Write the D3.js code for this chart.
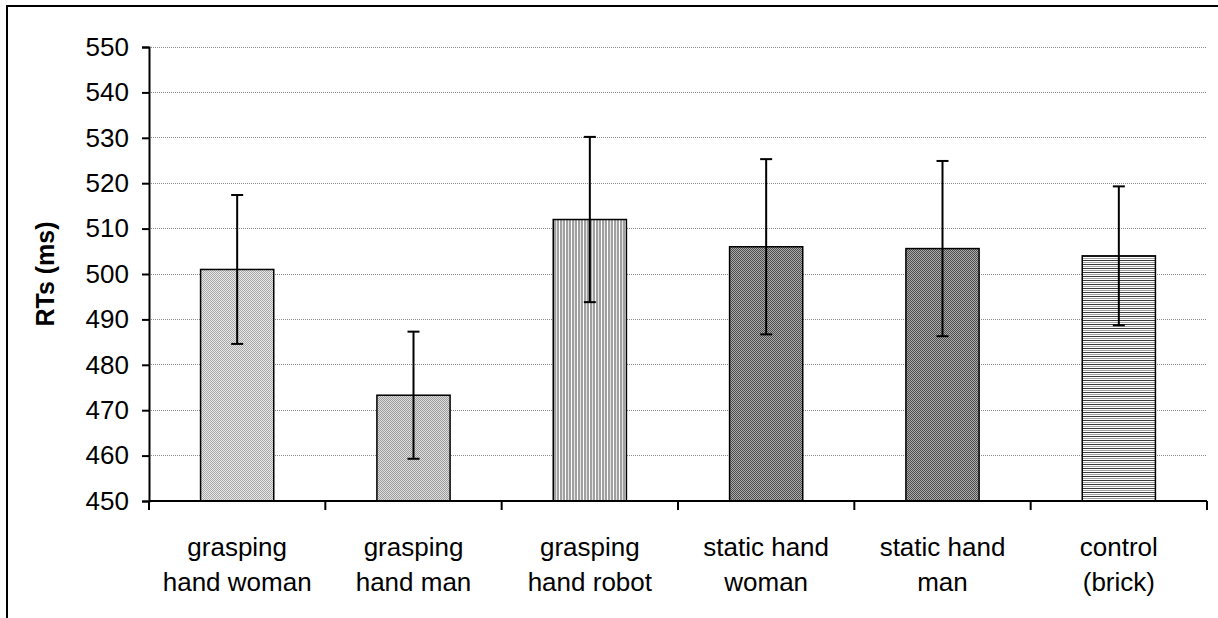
<!DOCTYPE html>
<html lang="en">
<head>
  <meta charset="UTF-8">
  <title>RTs by condition</title>
  <style>
    body {
      margin: 0;
      background: #fff;
    }
    svg {
      display: block;
      font-family: "Liberation Sans", Arial, sans-serif;
    }
  </style>
  <script src="https://d3js.org/d3.v7.min.js"></script>
</head>
<body>
  <div id="chart"></div>

  <script>
    // Data
    const categories = ['grasping hand woman', 'grasping hand man', 'grasping hand robot',
                        'static hand woman', 'static hand man', 'control (brick)'];
    const labelLines = [['grasping', 'hand woman'], ['grasping', 'hand man'], ['grasping', 'hand robot'],
                        ['static hand', 'woman'], ['static hand', 'man'], ['control', '(brick)']];
    const means = [501, 473.3, 512, 506, 505.6, 504];
    const errors = [16.4, 14, 18.2, 19.3, 19.3, 15.3];
    const yTicks = [450, 460, 470, 480, 490, 500, 510, 520, 530, 540, 550];
    const patternIds = ['p1', 'p2', 'p3', 'p4', 'p4', 'p6'];

    const width = 1218;
    const height = 618;
    const plot = { left: 149, right: 1207, top: 47, bottom: 501 };

    const svg = d3.select('#chart')
      .append('svg')
      .attr('width', width)
      .attr('height', height);

    // Fill patterns (approximation of the old Excel hatch fills)
    const defs = svg.append('defs');

    function pixelPattern(id, size, bg, fg, cells) {
      const p = defs.append('pattern')
        .attr('id', id)
        .attr('patternUnits', 'userSpaceOnUse')
        .attr('width', size)
        .attr('height', size);
      p.append('rect').attr('width', size).attr('height', size).attr('fill', bg);
      cells.forEach(c => {
        p.append('rect')
          .attr('x', c[0]).attr('y', c[1])
          .attr('width', 1).attr('height', 1)
          .attr('fill', fg);
      });
    }

    // diagonal weave: two diagonals per 4x4 tile
    const diag = [];
    for (let i = 0; i < 4; i++) {
      diag.push([i, i]);
      diag.push([(i + 2) % 4, i]);
    }
    pixelPattern('p1', 4, '#e8e8e8', '#a8a8a8', diag);
    pixelPattern('p2', 4, '#dedede', '#9c9c9c', diag);
    pixelPattern('p4', 4, '#ababab', '#4e4e4e', diag);

    // vertical stripes
    const p3 = defs.append('pattern')
      .attr('id', 'p3')
      .attr('patternUnits', 'userSpaceOnUse')
      .attr('width', 6)
      .attr('height', 6);
    p3.append('rect').attr('width', 6).attr('height', 6).attr('fill', '#a0a0a0');
    p3.append('rect').attr('x', 1).attr('width', 1).attr('height', 6).attr('fill', '#ffffff');
    p3.append('rect').attr('x', 4).attr('width', 1).attr('height', 6).attr('fill', '#e4e4e4');

    // horizontal lines
    const p6 = defs.append('pattern')
      .attr('id', 'p6')
      .attr('patternUnits', 'userSpaceOnUse')
      .attr('width', 6)
      .attr('height', 4);
    p6.append('rect').attr('width', 6).attr('height', 4).attr('fill', '#ffffff');
    p6.append('rect').attr('y', 0).attr('width', 6).attr('height', 1).attr('fill', '#3a3a3a');
    p6.append('rect').attr('y', 2).attr('width', 6).attr('height', 1).attr('fill', '#a0a0a0');

    // Outer frame (right and bottom edges fall outside the picture)
    svg.append('rect')
      .attr('x', 7)
      .attr('y', 6)
      .attr('width', width + 20)
      .attr('height', height + 20)
      .attr('fill', 'none')
      .attr('stroke', '#000')
      .attr('stroke-width', 2);

    // Scales
    const x = d3.scaleBand()
      .domain(categories)
      .range([plot.left, plot.right])
      .paddingInner(0.585)
      .paddingOuter(0.2925);

    const y = d3.scaleLinear()
      .domain([450, 550])
      .range([plot.bottom, plot.top]);

    // Gridlines
    svg.append('g')
      .selectAll('line')
      .data(yTicks.filter(d => d > 450))
      .enter()
      .append('line')
      .attr('x1', plot.left)
      .attr('x2', plot.right)
      .attr('y1', d => y(d))
      .attr('y2', d => y(d))
      .attr('stroke', '#8a8a8a')
      .attr('stroke-width', 1)
      .attr('stroke-dasharray', '1,1')
      .attr('shape-rendering', 'crispEdges');

    // Bars
    svg.append('g')
      .selectAll('rect')
      .data(categories)
      .enter()
      .append('rect')
      .attr('x', d => x(d))
      .attr('y', (d, i) => y(means[i]))
      .attr('width', x.bandwidth())
      .attr('height', (d, i) => y(450) - y(means[i]))
      .attr('fill', (d, i) => `url(#${patternIds[i]})`)
      .attr('stroke', '#000')
      .attr('stroke-width', 1.5);

    // Error bars
    const eb = svg.append('g')
      .selectAll('g')
      .data(categories)
      .enter()
      .append('g')
      .attr('stroke', '#000')
      .attr('stroke-width', 2);

    eb.append('line')
      .attr('x1', d => x(d) + x.bandwidth() / 2)
      .attr('x2', d => x(d) + x.bandwidth() / 2)
      .attr('y1', (d, i) => y(means[i] + errors[i]))
      .attr('y2', (d, i) => y(means[i] - errors[i]));

    [1, -1].forEach(sign => {
      eb.append('line')
        .attr('x1', d => x(d) + x.bandwidth() / 2 - 6)
        .attr('x2', d => x(d) + x.bandwidth() / 2 + 6)
        .attr('y1', (d, i) => y(means[i] + sign * errors[i]))
        .attr('y2', (d, i) => y(means[i] + sign * errors[i]));
    });

    // Y axis
    const yAxis = d3.axisLeft(y)
      .tickValues(yTicks)
      .tickSize(7)
      .tickPadding(13);

    const yg = svg.append('g')
      .attr('transform', `translate(${plot.left},0)`)
      .call(yAxis);
    yg.select('.domain').attr('stroke', '#000').attr('stroke-width', 2);
    yg.selectAll('.tick line').attr('stroke', '#000').attr('stroke-width', 2);
    yg.selectAll('.tick text')
      .attr('fill', '#000')
      .style('font-size', '26px')
      .style('font-family', '"Liberation Sans", Arial, sans-serif');

    // X axis: ticks at the category boundaries
    const bounds = d3.range(categories.length + 1)
      .map(i => plot.left + i * x.step());

    svg.append('line')
      .attr('x1', plot.left)
      .attr('x2', plot.right)
      .attr('y1', plot.bottom)
      .attr('y2', plot.bottom)
      .attr('stroke', '#000')
      .attr('stroke-width', 2);

    svg.append('g')
      .selectAll('line')
      .data(bounds)
      .enter()
      .append('line')
      .attr('x1', d => d)
      .attr('x2', d => d)
      .attr('y1', plot.bottom)
      .attr('y2', plot.bottom + 9)
      .attr('stroke', '#000')
      .attr('stroke-width', 2);

    // Category labels (two lines each)
    const lab = svg.append('g')
      .selectAll('text')
      .data(categories)
      .enter()
      .append('text')
      .attr('text-anchor', 'middle')
      .style('font-size', '26px')
      .attr('fill', '#000');

    lab.each(function (d, i) {
      const t = d3.select(this);
      labelLines[i].forEach((line, k) => {
        t.append('tspan')
          .attr('x', x(d) + x.bandwidth() / 2)
          .attr('y', 556 + k * 35)
          .text(line);
      });
    });

    // Y title
    svg.append('text')
      .attr('transform', `translate(54, ${(plot.top + plot.bottom) / 2}) rotate(-90)`)
      .attr('text-anchor', 'middle')
      .style('font-size', '25px')
      .style('font-weight', 'bold')
      .text('RTs (ms)');
  </script>
</body>
</html>
